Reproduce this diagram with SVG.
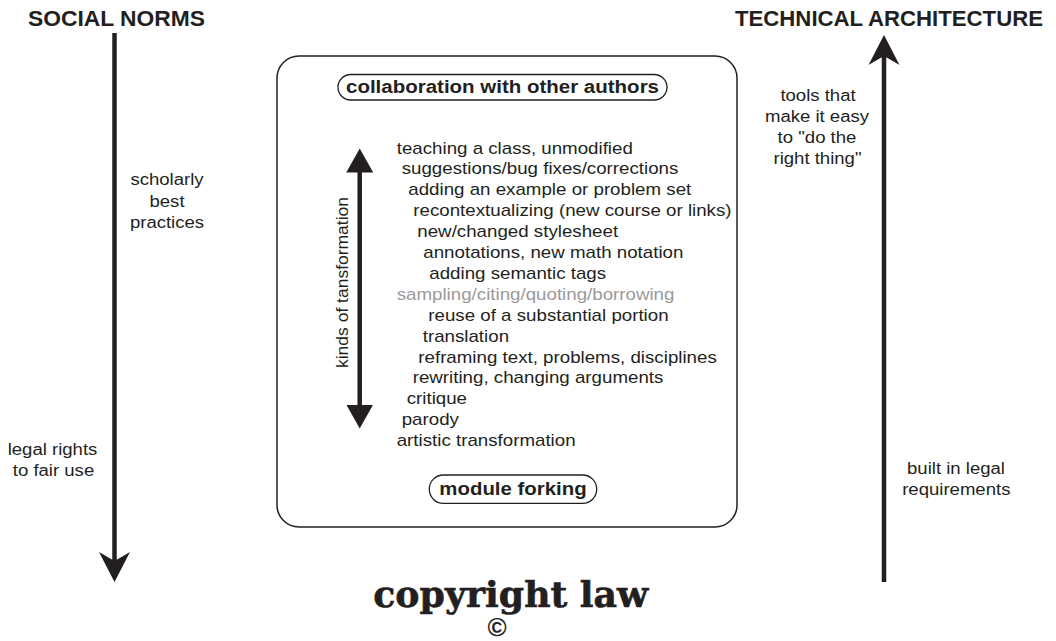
<svg xmlns="http://www.w3.org/2000/svg" width="1056" height="641" viewBox="0 0 1056 641">
<style>
  .hd { font-family: "Liberation Sans", Arial, sans-serif; font-weight: bold; font-size: 22px; fill: #231f20; }
  .pilltxt { font-family: "Liberation Sans", Arial, sans-serif; font-weight: bold; font-size: 17.5px; fill: #231f20; }
  .t { font-family: "Liberation Sans", Arial, sans-serif; font-size: 16px; fill: #231f20; }
  .gray { fill: #9a9a9a; }
  .mid { text-anchor: middle; }
  .box { fill: none; stroke: #231f20; stroke-width: 1.5; }
  .pill { fill: #ffffff; stroke: #231f20; stroke-width: 1.3; }
  .shaft { stroke: #231f20; stroke-width: 4.5; fill: none; }
  .law { font-family: "DejaVu Serif", "Liberation Serif", serif; font-weight: bold; font-size: 35px; fill: #231f20; stroke: #231f20; stroke-width: 0.6; }
  .copy { font-family: "Liberation Sans", Arial, sans-serif; font-weight: bold; font-size: 26px; fill: #231f20; text-anchor: middle; }
</style>
<defs>
  <marker id="swallow" markerUnits="userSpaceOnUse" viewBox="0 -16 31 32" markerWidth="31" markerHeight="32" refX="9" refY="0" orient="auto">
    <path d="M30,0 L0,-15.5 L9,0 L0,15.5 Z" fill="#231f20"/>
  </marker>
  <marker id="tri" markerUnits="userSpaceOnUse" viewBox="0 -14 25 28" markerWidth="25" markerHeight="28" refX="0.5" refY="0" orient="auto-start-reverse">
    <path d="M0,-13.5 L24,0 L0,13.5 Z" fill="#231f20"/>
  </marker>
</defs>

<g id="connectors">
  <line class="shaft" x1="114.5" y1="33" x2="114.5" y2="561" marker-end="url(#swallow)"/>
  <line class="shaft" x1="884" y1="582" x2="884" y2="56" marker-end="url(#swallow)"/>
  <line class="shaft" x1="359.7" y1="172" x2="359.7" y2="405" marker-start="url(#tri)" marker-end="url(#tri)"/>
</g>

<g id="social-norms">
  <text class="hd" x="28" y="26" textLength="177" lengthAdjust="spacingAndGlyphs">SOCIAL NORMS</text>
</g>
<g id="technical-architecture">
  <text class="hd" x="735" y="26" textLength="308" lengthAdjust="spacingAndGlyphs">TECHNICAL ARCHITECTURE</text>
</g>

<g id="scholarly-best-practices">
  <text class="t mid" transform="translate(167,185) scale(1.16,1)">scholarly</text>
  <text class="t mid" transform="translate(167,206.5) scale(1.16,1)">best</text>
  <text class="t mid" transform="translate(167,228) scale(1.16,1)">practices</text>
</g>
<g id="legal-rights">
  <text class="t mid" transform="translate(52.5,455) scale(1.16,1)">legal rights</text>
  <text class="t mid" transform="translate(53.5,476) scale(1.16,1)">to fair use</text>
</g>
<g id="tools">
  <text class="t mid" transform="translate(818,101) scale(1.16,1)">tools that</text>
  <text class="t mid" transform="translate(817,122) scale(1.16,1)">make it easy</text>
  <text class="t mid" transform="translate(817,143) scale(1.16,1)">to "do the</text>
  <text class="t mid" transform="translate(817.5,164) scale(1.16,1)">right thing"</text>
</g>
<g id="built-in-legal">
  <text class="t mid" transform="translate(956,473.5) scale(1.16,1)">built in legal</text>
  <text class="t mid" transform="translate(956.3,494.5) scale(1.16,1)">requirements</text>
</g>

<g id="main-box">
  <rect class="box" x="277" y="56" width="460" height="471" rx="22" ry="22"/>
</g>

<g id="collaboration">
  <rect class="pill" x="338" y="74.5" width="329" height="25.5" rx="12.75" ry="12.75"/>
  <text class="pilltxt" x="346" y="92.5" textLength="313" lengthAdjust="spacingAndGlyphs">collaboration with other authors</text>
</g>

<g id="module-forking">
  <rect class="pill" x="429.3" y="475" width="167.4" height="28.3" rx="14" ry="14"/>
  <text class="pilltxt" x="439.3" y="495" textLength="147.4" lengthAdjust="spacingAndGlyphs">module forking</text>
</g>

<g id="kinds-label">
  <text class="t mid" transform="translate(348,282.5) rotate(-90)" textLength="171" lengthAdjust="spacingAndGlyphs">kinds of tansformation</text>
</g>

<g id="transformations">
  <text class="t" transform="translate(396.7,153.5) scale(1.17,1)">teaching a class, unmodified</text>
  <text class="t" transform="translate(401.7,174.4) scale(1.17,1)">suggestions/bug fixes/corrections</text>
  <text class="t" transform="translate(408.3,195.3) scale(1.17,1)">adding an example or problem set</text>
  <text class="t" transform="translate(413.3,216.2) scale(1.17,1)">recontextualizing (new course or links)</text>
  <text class="t" transform="translate(417.3,237.1) scale(1.17,1)">new/changed stylesheet</text>
  <text class="t" transform="translate(423.3,258) scale(1.17,1)">annotations, new math notation</text>
  <text class="t" transform="translate(429.3,278.9) scale(1.17,1)">adding semantic tags</text>
  <text class="t gray" transform="translate(396.7,299.8) scale(1.17,1)">sampling/citing/quoting/borrowing</text>
  <text class="t" transform="translate(428.3,320.7) scale(1.17,1)">reuse of a substantial portion</text>
  <text class="t" transform="translate(422.7,341.6) scale(1.17,1)">translation</text>
  <text class="t" transform="translate(418.3,362.5) scale(1.17,1)">reframing text, problems, disciplines</text>
  <text class="t" transform="translate(412.7,383.4) scale(1.17,1)">rewriting, changing arguments</text>
  <text class="t" transform="translate(406.7,404.3) scale(1.17,1)">critique</text>
  <text class="t" transform="translate(401.7,425.2) scale(1.17,1)">parody</text>
  <text class="t" transform="translate(396.7,446.1) scale(1.17,1)">artistic transformation</text>
</g>

<g id="copyright-law">
  <text class="law" x="373.3" y="606.7" textLength="275" lengthAdjust="spacingAndGlyphs">copyright law</text>
  <text class="copy" x="497" y="636">©</text>
</g>
</svg>
